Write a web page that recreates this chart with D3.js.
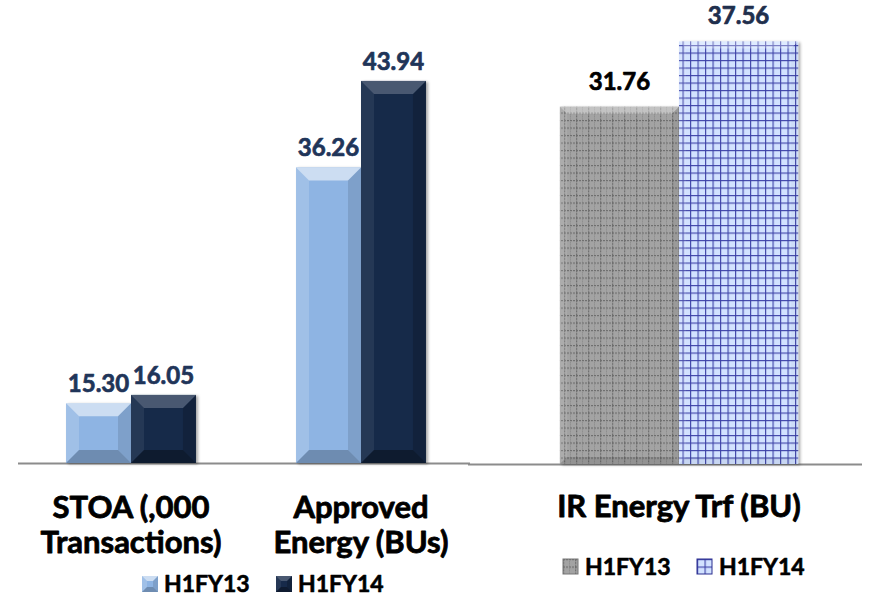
<!DOCTYPE html>
<html lang="en">
  <head>
    <meta charset="utf-8">
    <title>H1FY13 vs H1FY14</title>
    <script src="https://cdnjs.cloudflare.com/ajax/libs/d3/7.8.5/d3.min.js"></script>
    <style type="text/css">
      body { margin: 0; background: #fff; }
      text { paint-order: stroke; stroke-linejoin: round; }
      .val { font-family: 'Lato'; font-weight: bold; font-size: 24px; stroke-width: 0.7px; }
      .cat { font-family: 'Lato'; font-weight: bold; font-size: 31px; fill: #000; stroke: #000; stroke-width: 0.8px; }
      .leg { font-family: 'Lato'; font-weight: bold; font-size: 23px; fill: #000; stroke: #000; stroke-width: 0.6px; }
    </style>
  </head>
  <body>
    <svg id="chart"></svg>
    <script type="text/javascript">
// data
var series = ["H1FY13", "H1FY14"];
var leftCategories = [["STOA (,000", "Transactions)"], ["Approved", "Energy (BUs)"]];
var leftH1FY13 = [15.30, 36.26];
var leftH1FY14 = [16.05, 43.94];
var rightCategories = ["IR Energy Trf (BU)"];
var rightH1FY13 = [31.76];
var rightH1FY14 = [37.56];

var w = 879, h = 597;
var svg = d3.select("#chart").attr("width", w).attr("height", h);
var defs = svg.append("defs");

// drop shadow for the bars
var shadow = defs.append("filter").attr("id", "shadow")
  .attr("x", "-10%").attr("y", "-10%").attr("width", "130%").attr("height", "130%");
shadow.append("feDropShadow").attr("dx", 2).attr("dy", 1)
  .attr("stdDeviation", 1.8).attr("flood-color", "#000").attr("flood-opacity", 0.35);

// gray dotted grid pattern
var pg = defs.append("pattern").attr("id", "grayGrid")
  .attr("patternUnits", "userSpaceOnUse").attr("width", 12).attr("height", 7.5);
pg.append("rect").attr("width", 12).attr("height", 7.5).attr("fill", "#a3a3a3");
pg.append("line").attr("x1", 0.5).attr("x2", 0.5).attr("y1", 0).attr("y2", 7.5)
  .attr("stroke", "#6e6e6e").attr("stroke-width", 1.5).attr("stroke-dasharray", "2,1");
pg.append("line").attr("x1", 6.5).attr("x2", 6.5).attr("y1", 0).attr("y2", 7.5)
  .attr("stroke", "#858585").attr("stroke-width", 1).attr("stroke-dasharray", "1,1");
pg.append("line").attr("x1", 0).attr("x2", 12).attr("y1", 0.5).attr("y2", 0.5)
  .attr("stroke", "#6e6e6e").attr("stroke-width", 1.2).attr("stroke-dasharray", "2,1");

// blue square grid pattern
var pb = defs.append("pattern").attr("id", "blueGrid")
  .attr("patternUnits", "userSpaceOnUse").attr("width", 7.5).attr("height", 7.5);
pb.append("rect").attr("width", 7.5).attr("height", 7.5).attr("fill", "#d2e2ff");
pb.append("line").attr("x1", 0.6).attr("x2", 0.6).attr("y1", 0).attr("y2", 7.5)
  .attr("stroke", "#3a3fa6").attr("stroke-width", 1.1);
pb.append("line").attr("x1", 0).attr("x2", 7.5).attr("y1", 0.6).attr("y2", 0.6)
  .attr("stroke", "#3a3fa6").attr("stroke-width", 1.1);

var styles = {
  left: {
    H1FY13: { fill: "#8eb4e3", light: 0.55, dark: 0.22 },
    H1FY14: { fill: "#172a4a", light: 0.22, dark: 0.35 }
  },
  right: {
    H1FY13: { fill: "url(#grayGrid)", light: 0.35, dark: 0.1 },
    H1FY14: { fill: "url(#blueGrid)", light: 0.3, dark: 0.05 }
  }
};

// bar with bevelled edges
function bevelBar(g, x, y, bw, bh, st, b) {
  b = Math.min(b, bh / 2, bw / 2);
  var bar = g.append("g");
  bar.append("rect").attr("x", x).attr("y", y).attr("width", bw).attr("height", bh)
    .attr("fill", st.fill).attr("filter", "url(#shadow)");
  var pts = function(a) { return a.map(function(p) { return p.join(","); }).join(" "); };
  bar.append("polygon")
    .attr("points", pts([[x, y], [x + bw, y], [x + bw - b, y + b], [x + b, y + b]]))
    .attr("fill", "#fff").attr("opacity", st.light);
  bar.append("polygon")
    .attr("points", pts([[x, y], [x + b, y + b], [x + b, y + bh - b], [x, y + bh]]))
    .attr("fill", "#fff").attr("opacity", st.light * 0.3);
  bar.append("polygon")
    .attr("points", pts([[x + bw, y], [x + bw - b, y + b], [x + bw - b, y + bh - b], [x + bw, y + bh]]))
    .attr("fill", "#000").attr("opacity", st.dark * 0.5);
  bar.append("polygon")
    .attr("points", pts([[x, y + bh], [x + b, y + bh - b], [x + bw - b, y + bh - b], [x + bw, y + bh]]))
    .attr("fill", "#000").attr("opacity", st.dark);
  return bar;
}

// ---- left chart ----
var leftBase = 463;
var x0 = d3.scaleBand().domain(d3.range(leftCategories.length))
  .range([16, 476]).paddingInner(0.435).paddingOuter(0.2175);
var x1 = d3.scaleBand().domain(series).range([0, x0.bandwidth()]);
var yL = d3.scaleLinear().domain([10, 45]).range([leftBase, 69]);
var leftData = { H1FY13: leftH1FY13, H1FY14: leftH1FY14 };

svg.append("line").attr("x1", 18).attr("x2", 470).attr("y1", leftBase + 0.5).attr("y2", leftBase + 0.5)
  .attr("stroke", "#8c8c8c").attr("stroke-width", 2);

var gL = svg.append("g");
leftCategories.forEach(function(c, i) {
  series.forEach(function(s) {
    var v = leftData[s][i];
    var bx = x0(i) + x1(s);
    bevelBar(gL, bx, yL(v), x1.bandwidth(), leftBase - yL(v), styles.left[s], 13);
    gL.append("text").attr("class", "val")
      .attr("x", bx + x1.bandwidth() / 2).attr("y", yL(v) - 11)
      .attr("text-anchor", "middle").attr("fill", "#1f3559").attr("stroke", "#1f3559")
      .text(v.toFixed(2));
  });
  gL.selectAll(null).data(c).enter().append("text").attr("class", "cat")
    .attr("x", x0(i) + x0.bandwidth() / 2)
    .attr("y", function(d, k) { return 518 + k * 35; })
    .attr("text-anchor", "middle").text(function(d) { return d; });
});

// left legend
var legL = svg.append("g").attr("transform", "translate(142,576)");
series.forEach(function(s, i) {
  var lg = legL.append("g").attr("transform", "translate(" + (i * 134) + ",0)");
  bevelBar(lg, 0, 0, 16, 16, styles.left[s], 5).select("rect").attr("filter", null);
  lg.append("text").attr("class", "leg").attr("x", 22).attr("y", 16).text(s);
});

// ---- right chart ----
var rightBase = 464;
var xr = d3.scaleBand().domain(rightCategories).range([470, 888])
  .paddingInner(0.43).paddingOuter(0.215);
var xr1 = d3.scaleBand().domain(series).range([0, xr.bandwidth()]);
var yR = d3.scaleLinear().domain([0, 40]).range([rightBase, 14]);
var rightData = { H1FY13: rightH1FY13, H1FY14: rightH1FY14 };
var rightLabelColor = { H1FY13: "#000", H1FY14: "#1f2f4d" };

svg.append("line").attr("x1", 468).attr("x2", 862).attr("y1", rightBase + 0.5).attr("y2", rightBase + 0.5)
  .attr("stroke", "#8c8c8c").attr("stroke-width", 2);

var gR = svg.append("g");
rightCategories.forEach(function(c) {
  series.forEach(function(s, j) {
    var v = rightData[s][0];
    var bx = xr(c) + xr1(s);
    bevelBar(gR, bx, yR(v), xr1.bandwidth(), rightBase - yR(v), styles.right[s], 7);
    gR.append("text").attr("class", "val")
      .attr("x", bx + xr1.bandwidth() / 2).attr("y", yR(v) - 17)
      .attr("text-anchor", "middle").attr("fill", rightLabelColor[s]).attr("stroke", rightLabelColor[s])
      .text(v.toFixed(2));
  });
  gR.append("text").attr("class", "cat")
    .attr("x", xr(c) + xr.bandwidth() / 2).attr("y", 517)
    .attr("text-anchor", "middle").text(c);
});

// right legend
var legR = svg.append("g").attr("transform", "translate(563,559)");
series.forEach(function(s, i) {
  var lg = legR.append("g").attr("transform", "translate(" + (i * 134) + ",0)");
  lg.append("rect").attr("width", 15).attr("height", 15)
    .attr("fill", styles.right[s].fill)
    .attr("stroke", s == "H1FY14" ? "#2b2f8f" : "#777").attr("stroke-width", 1);
  lg.append("text").attr("class", "leg").attr("x", 22).attr("y", 16).text(s);
});
    </script>
  </body>
</html>
